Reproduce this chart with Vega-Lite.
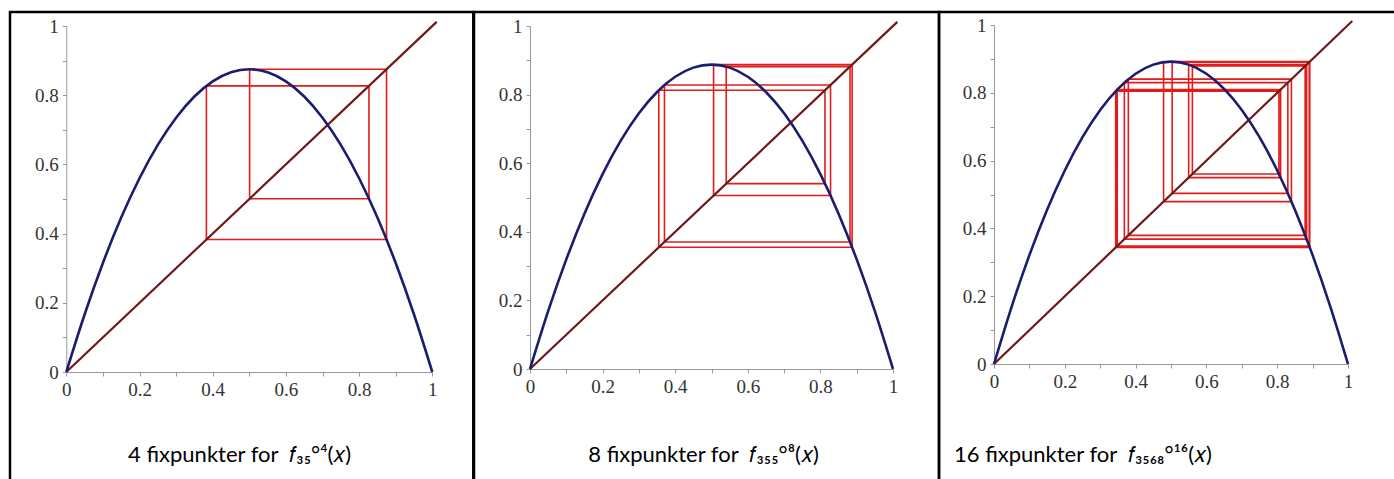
{
  "$schema": "https://vega.github.io/schema/vega-lite/v6.json",
  "background": "white",
  "padding": {"left": 8, "top": 10, "right": 0, "bottom": 0},
  "spacing": 0,
  "bounds": "flush",
  "config": {
    "view": {"stroke": "black", "strokeWidth": 2.5},
    "axis": {
      "grid": false,
      "title": null,
      "domainColor": "#9a9a9a",
      "domainWidth": 1,
      "tickColor": "#9a9a9a",
      "tickWidth": 1,
      "tickSize": 4,
      "labelFont": "Liberation Serif",
      "labelFontSize": 19,
      "labelColor": "#333333",
      "labelPadding": 4,
      "labelFlush": false,
      "labelOverlap": false,
      "format": "~g",
      "values": [0, 0.1, 0.2, 0.3, 0.4, 0.5, 0.6, 0.7, 0.8, 0.9, 1],
      "labelExpr": "round(datum.value * 10) % 2 === 0 ? datum.label : ''"
    },
    "title": {"font": "Lato", "fontSize": 22, "fontWeight": "normal", "color": "black", "orient": "bottom", "frame": "group", "baseline": "alphabetic"}
  },
  "datasets": {
    "diagonal": [{"x": 0, "y": 0}, {"x": 1.012, "y": 1.012}],
    "parabel_35": [
      {"x": 0, "y": 0}, {"x": 0.05, "y": 0.16625}, {"x": 0.1, "y": 0.315}, {"x": 0.15, "y": 0.44625},
      {"x": 0.2, "y": 0.56}, {"x": 0.25, "y": 0.65625}, {"x": 0.3, "y": 0.735}, {"x": 0.35, "y": 0.79625},
      {"x": 0.4, "y": 0.84}, {"x": 0.45, "y": 0.86625}, {"x": 0.5, "y": 0.875}, {"x": 0.55, "y": 0.86625},
      {"x": 0.6, "y": 0.84}, {"x": 0.65, "y": 0.79625}, {"x": 0.7, "y": 0.735}, {"x": 0.75, "y": 0.65625},
      {"x": 0.8, "y": 0.56}, {"x": 0.85, "y": 0.44625}, {"x": 0.9, "y": 0.315}, {"x": 0.95, "y": 0.16625},
      {"x": 1, "y": 0}
    ],
    "parabel_355": [
      {"x": 0, "y": 0}, {"x": 0.05, "y": 0.168625}, {"x": 0.1, "y": 0.3195}, {"x": 0.15, "y": 0.452625},
      {"x": 0.2, "y": 0.568}, {"x": 0.25, "y": 0.665625}, {"x": 0.3, "y": 0.7455}, {"x": 0.35, "y": 0.807625},
      {"x": 0.4, "y": 0.852}, {"x": 0.45, "y": 0.878625}, {"x": 0.5, "y": 0.8875}, {"x": 0.55, "y": 0.878625},
      {"x": 0.6, "y": 0.852}, {"x": 0.65, "y": 0.807625}, {"x": 0.7, "y": 0.7455}, {"x": 0.75, "y": 0.665625},
      {"x": 0.8, "y": 0.568}, {"x": 0.85, "y": 0.452625}, {"x": 0.9, "y": 0.3195}, {"x": 0.95, "y": 0.168625},
      {"x": 1, "y": 0}
    ],
    "parabel_3568": [
      {"x": 0, "y": 0}, {"x": 0.05, "y": 0.16948}, {"x": 0.1, "y": 0.32112}, {"x": 0.15, "y": 0.45492},
      {"x": 0.2, "y": 0.57088}, {"x": 0.25, "y": 0.669}, {"x": 0.3, "y": 0.74928}, {"x": 0.35, "y": 0.81172},
      {"x": 0.4, "y": 0.85632}, {"x": 0.45, "y": 0.88308}, {"x": 0.5, "y": 0.892}, {"x": 0.55, "y": 0.88308},
      {"x": 0.6, "y": 0.85632}, {"x": 0.65, "y": 0.81172}, {"x": 0.7, "y": 0.74928}, {"x": 0.75, "y": 0.669},
      {"x": 0.8, "y": 0.57088}, {"x": 0.85, "y": 0.45492}, {"x": 0.9, "y": 0.32112}, {"x": 0.95, "y": 0.16948},
      {"x": 1, "y": 0}
    ],
    "spind_35": [
      {"i": 0, "x": 0.38282, "y": 0.38282}, {"i": 1, "x": 0.38282, "y": 0.82694},
      {"i": 2, "x": 0.82694, "y": 0.82694}, {"i": 3, "x": 0.82694, "y": 0.50088},
      {"i": 4, "x": 0.50088, "y": 0.50088}, {"i": 5, "x": 0.50088, "y": 0.875},
      {"i": 6, "x": 0.875, "y": 0.875}, {"i": 7, "x": 0.875, "y": 0.38282},
      {"i": 8, "x": 0.38282, "y": 0.38282}
    ],
    "spind_355": [
      {"i": 0, "x": 0.35477, "y": 0.35477}, {"i": 1, "x": 0.35477, "y": 0.81261},
      {"i": 2, "x": 0.81261, "y": 0.81261}, {"i": 3, "x": 0.81261, "y": 0.54058},
      {"i": 4, "x": 0.54058, "y": 0.54058}, {"i": 5, "x": 0.54058, "y": 0.88165},
      {"i": 6, "x": 0.88165, "y": 0.88165}, {"i": 7, "x": 0.88165, "y": 0.37041},
      {"i": 8, "x": 0.37041, "y": 0.37041}, {"i": 9, "x": 0.37041, "y": 0.82793},
      {"i": 10, "x": 0.82793, "y": 0.82793}, {"i": 11, "x": 0.82793, "y": 0.50574},
      {"i": 12, "x": 0.50574, "y": 0.50574}, {"i": 13, "x": 0.50574, "y": 0.88738},
      {"i": 14, "x": 0.88738, "y": 0.88738}, {"i": 15, "x": 0.88738, "y": 0.35477},
      {"i": 16, "x": 0.35477, "y": 0.35477}
    ],
    "spind_3568": [
      {"i": 0, "x": 0.34373, "y": 0.34373}, {"i": 1, "x": 0.34373, "y": 0.80487},
      {"i": 2, "x": 0.80487, "y": 0.80487}, {"i": 3, "x": 0.80487, "y": 0.56038},
      {"i": 4, "x": 0.56038, "y": 0.56038}, {"i": 5, "x": 0.56038, "y": 0.87899},
      {"i": 6, "x": 0.87899, "y": 0.87899}, {"i": 7, "x": 0.87899, "y": 0.37951},
      {"i": 8, "x": 0.37951, "y": 0.37951}, {"i": 9, "x": 0.37951, "y": 0.8402},
      {"i": 10, "x": 0.8402, "y": 0.8402}, {"i": 11, "x": 0.8402, "y": 0.47904},
      {"i": 12, "x": 0.47904, "y": 0.47904}, {"i": 13, "x": 0.47904, "y": 0.89043},
      {"i": 14, "x": 0.89043, "y": 0.89043}, {"i": 15, "x": 0.89043, "y": 0.3481},
      {"i": 16, "x": 0.3481, "y": 0.3481}, {"i": 17, "x": 0.3481, "y": 0.80967},
      {"i": 18, "x": 0.80967, "y": 0.80967}, {"i": 19, "x": 0.80967, "y": 0.54984},
      {"i": 20, "x": 0.54984, "y": 0.54984}, {"i": 21, "x": 0.54984, "y": 0.88314},
      {"i": 22, "x": 0.88314, "y": 0.88314}, {"i": 23, "x": 0.88314, "y": 0.36824},
      {"i": 24, "x": 0.36824, "y": 0.36824}, {"i": 25, "x": 0.36824, "y": 0.83006},
      {"i": 26, "x": 0.83006, "y": 0.83006}, {"i": 27, "x": 0.83006, "y": 0.50331},
      {"i": 28, "x": 0.50331, "y": 0.50331}, {"i": 29, "x": 0.50331, "y": 0.89196},
      {"i": 30, "x": 0.89196, "y": 0.89196}, {"i": 31, "x": 0.89196, "y": 0.34373},
      {"i": 32, "x": 0.34373, "y": 0.34373}
    ]
  },
  "hconcat": [
    {
      "width": 463.3,
      "height": 474,
      "title": {"text": "4 fixpunkter for\u00a0 𝑓₃₅°⁴(𝑥)", "anchor": "middle", "dx": -2, "offset": -41},
      "encoding": {
        "x": {"field": "x", "type": "quantitative", "scale": {"domain": [0, 1], "range": [56.3, 422.3], "nice": false, "zero": false}, "axis": {"offset": -114}},
        "y": {"field": "y", "type": "quantitative", "scale": {"domain": [0, 1], "range": [360, 14], "nice": false, "zero": false}, "axis": {"offset": -56.3}}
      },
      "layer": [
        {"data": {"name": "spind_35"}, "mark": {"type": "line", "color": "#e31b1b", "strokeWidth": 1.6}, "encoding": {"order": {"field": "i", "type": "quantitative"}}},
        {"data": {"name": "diagonal"}, "mark": {"type": "line", "color": "#701818", "strokeWidth": 2.2}},
        {"data": {"name": "parabel_35"}, "mark": {"type": "line", "color": "#1c1c6e", "strokeWidth": 2.6, "interpolate": "monotone"}}
      ]
    },
    {
      "width": 465,
      "height": 474,
      "title": {"text": "8 fixpunkter for\u00a0 𝑓₃₅₅°⁸(𝑥)", "anchor": "middle", "dx": -3, "offset": -41},
      "encoding": {
        "x": {"field": "x", "type": "quantitative", "scale": {"domain": [0, 1], "range": [56, 419], "nice": false, "zero": false}, "axis": {"offset": -117}},
        "y": {"field": "y", "type": "quantitative", "scale": {"domain": [0, 1], "range": [357, 14], "nice": false, "zero": false}, "axis": {"offset": -56}}
      },
      "layer": [
        {"data": {"name": "spind_355"}, "mark": {"type": "line", "color": "#e31b1b", "strokeWidth": 1.6}, "encoding": {"order": {"field": "i", "type": "quantitative"}}},
        {"data": {"name": "diagonal"}, "mark": {"type": "line", "color": "#701818", "strokeWidth": 2.2}},
        {"data": {"name": "parabel_355"}, "mark": {"type": "line", "color": "#1c1c6e", "strokeWidth": 2.6, "interpolate": "monotone"}}
      ]
    },
    {
      "width": 460,
      "height": 474,
      "title": {"text": "16 fixpunkter for\u00a0 𝑓₃₅₆₈°¹⁶(𝑥)", "anchor": "start", "dx": 15, "offset": -41},
      "encoding": {
        "x": {"field": "x", "type": "quantitative", "scale": {"domain": [0, 1], "range": [55, 409], "nice": false, "zero": false}, "axis": {"offset": -122}},
        "y": {"field": "y", "type": "quantitative", "scale": {"domain": [0, 1], "range": [352, 13], "nice": false, "zero": false}, "axis": {"offset": -55}}
      },
      "layer": [
        {"data": {"name": "spind_3568"}, "mark": {"type": "line", "color": "#e31b1b", "strokeWidth": 1.6}, "encoding": {"order": {"field": "i", "type": "quantitative"}}},
        {"data": {"name": "diagonal"}, "mark": {"type": "line", "color": "#701818", "strokeWidth": 2.2}},
        {"data": {"name": "parabel_3568"}, "mark": {"type": "line", "color": "#1c1c6e", "strokeWidth": 2.6, "interpolate": "monotone"}}
      ]
    }
  ]
}
